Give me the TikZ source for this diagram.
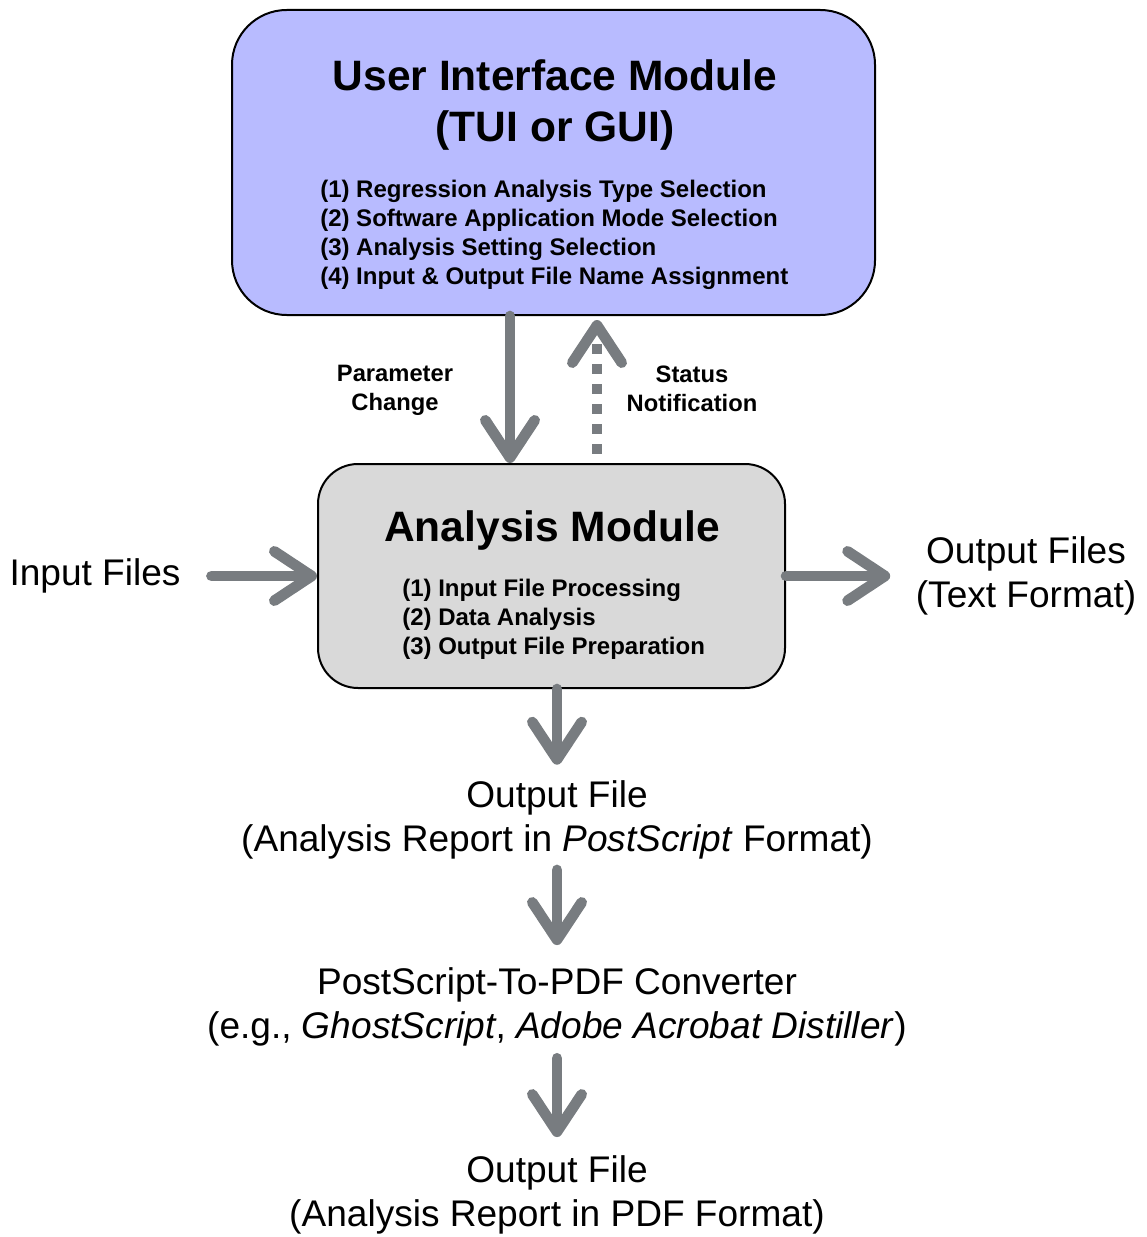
\documentclass[tikz,border=0pt]{standalone}
\usepackage{fontspec}
\setmainfont{Liberation Sans}
\usetikzlibrary{arrows.meta}
\usetikzlibrary{positioning}

\definecolor{uiblue}{RGB}{184,187,255}
\definecolor{amgray}{RGB}{217,217,217}
\definecolor{flowgray}{RGB}{120,124,128}

\begin{document}
\begin{tikzpicture}[line cap=round,line join=round,>={Straight Barb[round,length=28pt,width=37pt]},x=0.75pt,y=-0.75pt,
  modbox/.style={draw=black,line width=1.5pt,inner sep=0pt},
  bigtitle/.style={font=\fontsize{31.9}{38.3}\selectfont\bfseries,align=center,inner sep=0pt},
  tasks/.style={font=\fontsize{18}{21.75}\selectfont\bfseries,align=left,inner sep=0pt,anchor=west},
  flowlabel/.style={font=\fontsize{17.8}{21.75}\selectfont\bfseries,align=center,inner sep=0pt},
  filetext/.style={font=\fontsize{27.8}{32.6}\selectfont,align=center,inner sep=0pt},
  flow/.style={->,draw=flowgray,line width=8pt}]
\useasboundingbox (0,0) rectangle (1146,1237);
% modules
\node[modbox,fill=uiblue,rounded corners=41pt,minimum width=482.25pt,minimum height=228.75pt] (ui) at (553.5,162.5) {};
\node[bigtitle] (uititle) at (555,105) {User Interface Module\\(TUI or GUI)};
\node[tasks] (uitasks) at (320,235) {(1) Regression Analysis Type Selection\\(2) Software Application Mode Selection\\(3) Analysis Setting Selection\\(4) Input \& Output File Name Assignment};
\node[modbox,fill=amgray,rounded corners=30pt,minimum width=350.25pt,minimum height=168pt] (am) at (551.5,576) {};
\node[bigtitle] (amtitle) at (552,530) {Analysis Module};
\node[tasks] (amtasks) at (402,619) {(1) Input File Processing\\(2) Data Analysis\\(3) Output File Preparation};
% labels between modules
\node[flowlabel] (pchange) at (395,390) {Parameter\\Change};
\node[flowlabel] (snote) at (692,389) {Status\\Notification};
\coordinate (pc) at (510,0);
\coordinate (sn) at (597,0);
% files
\node[filetext] (infiles) at (95,576) {Input Files};
\node[filetext] (outfiles) at (1026,576) {Output Files\\(Text Format)};
\node[filetext] (psfile) at (557,820) {Output File\\(Analysis Report in \textit{PostScript} Format)};
\node[filetext] (conv) at (557,1007) {PostScript-To-PDF Converter\\(e.g., \textit{GhostScript}, \textit{Adobe Acrobat Distiller})};
\node[filetext] (pdffile) at (557,1195) {Output File\\(Analysis Report in PDF Format)};
% arrows
\draw[flow] (ui.south -| pc) -- (am.north -| pc);
\draw[flow,line cap=butt,dash pattern=on 7.5pt off 7.5pt,shorten <=7pt,shorten >=3pt] (am.north -| sn) -- (ui.south -| sn);
\draw[flow,shorten <=23pt] (infiles.east) -- (am.west);
\draw[flow,shorten >=19pt] (am.east) -- (outfiles.west);
\draw[flow,shorten >=12pt] (am.south -| psfile) -- (psfile.north);
\draw[flow,shorten <=8pt,shorten >=17pt] (psfile.south) -- (conv.north);
\draw[flow,shorten <=9pt,shorten >=14pt] (conv.south) -- (pdffile.north);
\end{tikzpicture}
\end{document}
